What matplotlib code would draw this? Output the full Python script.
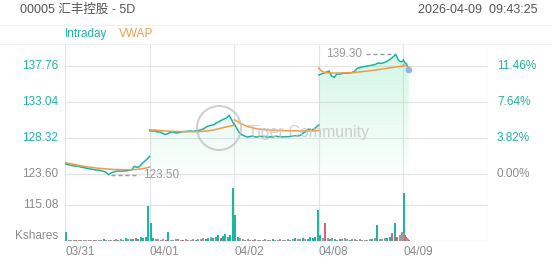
import numpy as np
import matplotlib.pyplot as plt
from matplotlib.patches import Polygon, Circle
import matplotlib.transforms as mtransforms

plt.rcParams['font.family'] = ['Liberation Sans', 'Noto Sans CJK SC', 'DejaVu Sans']

TITLE = "00005 汇丰控股 - 5D"
STAMP = "2026-04-09  09:43:25"
day_labels = ['03/31', '04/01', '04/02', '04/08', '04/09']
prev_close = 123.60
price_ticks = [123.60, 128.32, 133.04, 137.76]
vol_tick = 115.08

# price samples every 10 min of a 330-min session (lunch removed)
minutes_full = list(range(0, 331, 10))
price_d1 = [124.96, 124.85, 124.78, 124.70, 124.62, 124.66, 124.52, 124.45, 124.40, 124.30,
            124.26, 124.20, 124.13, 124.10, 124.05, 123.95, 123.82, 123.50, 123.75, 123.88,
            123.96, 124.00, 123.95, 124.02, 124.00, 124.10, 124.13, 124.60, 124.48, 124.55,
            124.95, 125.25, 125.55, 125.90]
price_d2 = [129.28, 129.22, 129.25, 129.10, 129.12, 128.95, 128.78, 128.88, 129.05, 129.11,
            129.00, 128.98, 129.08, 129.15, 129.17, 129.20, 129.24, 129.18, 129.28, 129.30,
            129.40, 129.50, 129.75, 129.90, 130.00, 130.05, 130.30, 130.45, 130.65, 130.80,
            130.95, 131.30, 130.70, 130.05]
price_d3 = [130.20, 129.60, 129.00, 128.75, 128.60, 128.45, 128.50, 128.58, 128.48, 128.45,
            128.55, 128.50, 128.52, 128.42, 128.48, 128.45, 128.55, 128.50, 128.52, 128.45,
            128.50, 128.48, 128.55, 128.58, 128.62, 128.60, 128.70, 129.00, 129.15, 129.50,
            129.35, 129.45, 129.76, 130.03]
price_d4 = [136.58, 136.70, 136.84, 136.95, 137.10, 136.45, 136.25, 136.71, 136.70, 136.75,
            136.84, 136.80, 136.85, 136.90, 137.10, 137.45, 137.55, 137.63, 137.70, 137.76,
            137.82, 137.89, 137.95, 138.15, 138.10, 138.15, 138.28, 138.45, 138.70, 138.95,
            139.30, 138.55, 138.30, 138.41]
minutes_d5 = [0, 4, 8, 12, 16, 21]
price_d5 = [138.55, 138.30, 138.10, 138.05, 137.70, 137.24]

vwap_d1 = [125.10, 125.02, 124.95, 124.88, 124.82, 124.76, 124.70, 124.64, 124.58, 124.53,
           124.48, 124.44, 124.40, 124.36, 124.33, 124.30, 124.27, 124.24, 124.22, 124.20,
           124.19, 124.18, 124.17, 124.17, 124.17, 124.17, 124.18, 124.19, 124.21, 124.24,
           124.28, 124.34, 124.42, 124.52]
vwap_d2 = [129.40, 129.38, 129.36, 129.33, 129.30, 129.27, 129.24, 129.22, 129.20, 129.19,
           129.18, 129.17, 129.16, 129.15, 129.15, 129.15, 129.15, 129.15, 129.15, 129.16,
           129.18, 129.20, 129.23, 129.27, 129.32, 129.38, 129.45, 129.53, 129.62, 129.70,
           129.78, 129.86, 129.92, 129.98]
vwap_d3 = [130.70, 130.55, 130.35, 130.15, 129.98, 129.85, 129.75, 129.66, 129.59, 129.53,
           129.48, 129.44, 129.41, 129.38, 129.36, 129.34, 129.32, 129.31, 129.30, 129.29,
           129.28, 129.27, 129.26, 129.25, 129.25, 129.24, 129.24, 129.24, 129.24, 129.24,
           129.25, 129.25, 129.26, 129.27]
vwap_d4 = [137.50, 137.10, 136.95, 136.88, 136.85, 136.84, 136.83, 136.83, 136.84, 136.85,
           136.86, 136.87, 136.88, 136.90, 136.92, 136.95, 136.98, 137.02, 137.06, 137.10,
           137.14, 137.18, 137.22, 137.27, 137.32, 137.37, 137.42, 137.47, 137.53, 137.58,
           137.63, 137.68, 137.72, 137.76]
vwap_d5 = [137.90, 137.85, 137.80, 137.75, 137.68, 137.63]

# volume (Kshares) in 34 buckets per session, colour: t=up, r=down, g=flat
vol_d1 = [29, 4, 3, 2, 3, 2, 3, 4, 2, 3, 2, 3, 2, 4, 3, 5, 4, 3, 2, 3,
          5, 4, 6, 4, 8, 5, 6, 7, 9, 6, 12, 10, 14, 112]
col_d1 = "tgggrggggggrgggtgggrgtggtgttrttttt"
vol_d2 = [58, 10, 6, 5, 4, 6, 3, 29, 4, 3, 5, 5, 4, 3, 6, 4, 3, 5, 4, 6,
          5, 8, 6, 10, 12, 8, 14, 18, 10, 16, 22, 14, 20, 169]
col_d2 = "ttggggrtgggggrggggtgggttgtttrttttt"
vol_d3 = [83, 12, 8, 5, 4, 6, 3, 4, 5, 3, 4, 3, 5, 4, 3, 6, 4, 3, 5, 4,
          3, 6, 4, 5, 8, 6, 5, 10, 7, 6, 12, 8, 14, 99]
col_d3 = "ttgggggrgggggggtggggggggtggtgttttt"
vol_d4 = [20, 10, 58, 8, 6, 10, 5, 4, 6, 5, 8, 6, 4, 5, 6, 4, 5, 4, 3, 4,
          5, 6, 8, 51, 6, 5, 8, 10, 14, 25, 58, 12, 20, 30]
col_d4 = "tgrgtgtgtgggtggggggggtgtgggttrtrgg"
minutes_vol_d5 = [0, 3, 6, 9, 12, 16, 20]
vol_d5 = [153, 25, 18, 12, 10, 6, 4]
col_d5 = "tgrrggr"

TEAL = '#20b2a0'
ORANGE = '#f2994a'
GREY_TXT = '#8a8a8a'
GRID = '#e4e4e4'
CMAP = {'t': '#1fb5a3', 'r': '#e0606e', 'g': '#9a9a9a'}

# ---- assemble series (one segment per session)
sessions = [(minutes_full, price_d1, vwap_d1), (minutes_full, price_d2, vwap_d2),
            (minutes_full, price_d3, vwap_d3), (minutes_full, price_d4, vwap_d4),
            (minutes_d5, price_d5, vwap_d5)]
segs = []
for d, (mins, pr, vw) in enumerate(sessions):
    segs.append((np.array([d + m / 330 for m in mins]), np.array(pr), np.array(vw)))
x_p = np.concatenate([s[0] for s in segs])
y_p = np.concatenate([s[1] for s in segs])

x_b, h_b, c_b = [], [], []
for d, (vv, cc) in enumerate([(vol_d1, col_d1), (vol_d2, col_d2), (vol_d3, col_d3), (vol_d4, col_d4)]):
    x_b += [d + (k + 0.5) / len(vv) for k in range(len(vv))]
    h_b += vv
    c_b += [CMAP[c] for c in cc]
x_b += [4 + (m + 0.5) / 330 for m in minutes_vol_d5]
h_b += vol_d5
c_b += [CMAP[c] for c in col_d5]

# ---- figure
W, H = 552, 265
fig = plt.figure(figsize=(W / 100, H / 100), dpi=100)


def fx(px):
    return px / W


def fy(py):
    return 1 - py / H


L, R = 65, 488
TOP, MID, BOT = 44, 185, 241
ax = fig.add_axes([fx(L), fy(MID), fx(R - L), fy(TOP) - fy(MID)])
axv = fig.add_axes([fx(L), fy(BOT), fx(R - L), fy(MID) - fy(BOT)])

ylo, yhi = 122.16, 140.64
for a in (ax, axv):
    a.set_xlim(0, 5)
    a.set_xticks([])
    a.set_yticks([])
    for s in a.spines.values():
        s.set_visible(False)
    for d in range(6):
        a.axvline(d, color=GRID, lw=0.8, zorder=0)
ax.set_ylim(ylo, yhi)
axv.set_ylim(0, 179)

# gradient fill under the price line
poly = Polygon(list(zip(x_p, y_p)) + [(x_p[-1], ylo), (x_p[0], ylo)],
               closed=True, facecolor='none', edgecolor='none')
ax.add_patch(poly)
grad = np.zeros((100, 1, 4))
grad[..., 0], grad[..., 1], grad[..., 2] = 0.30, 0.86, 0.60
grad[:, 0, 3] = np.linspace(0.26, 0.0, 100)
im = ax.imshow(grad, extent=[0, 5, ylo, yhi], aspect='auto', origin='upper', zorder=1)
im.set_clip_path(poly)
ax.set_xlim(0, 5)
ax.set_ylim(ylo, yhi)

for v in price_ticks:
    ax.axhline(v, color=GRID, lw=0.8, zorder=0)
for xs, pr, vw in segs:
    ax.plot(xs, pr, color=TEAL, lw=1.1, zorder=3)
    ax.plot(xs, vw, color=ORANGE, lw=1.1, zorder=4)
ax.scatter([x_p[-1]], [y_p[-1]], s=24, color='#8fb6ee', zorder=5, edgecolors='none')

# high / low markers
pxd = 5 / (R - L)
i_hi, i_lo = int(np.argmax(y_p)), int(np.argmin(y_p))
ax.plot([x_p[i_hi] - 30 * pxd, x_p[i_hi] - 2 * pxd], [y_p[i_hi]] * 2, color='#9a9a9a',
        lw=1, ls=(0, (3, 2)), zorder=4)
ax.text(x_p[i_hi] - 34 * pxd, y_p[i_hi], f"{y_p[i_hi]:.2f}", ha='right', va='center',
        fontsize=8.5, color='#9a9a9a', zorder=4)
ax.plot([x_p[i_lo] + 2 * pxd, x_p[i_lo] + 30 * pxd], [y_p[i_lo]] * 2, color='#9a9a9a',
        lw=1, ls=(0, (3, 2)), zorder=4)
ax.text(x_p[i_lo] + 34 * pxd, y_p[i_lo], f"{y_p[i_lo]:.2f}", ha='left', va='center',
        fontsize=8.5, color='#9a9a9a', zorder=4)

# axis labels
tl = mtransforms.blended_transform_factory(ax.transAxes, ax.transData)
for v in price_ticks:
    c = GREY_TXT if v == prev_close else TEAL
    ax.text(-7 / (R - L), v, f"{v:.2f}", transform=tl, ha='right', va='center', fontsize=8.5, color=c)
    pct = (v / prev_close - 1) * 100
    ax.text(1 + 9 / (R - L), v, f"{pct:.2f}%", transform=tl, ha='left', va='center', fontsize=8.5, color=c)

axv.axhline(vol_tick, color=GRID, lw=0.8, zorder=0)
axv.axhline(0, color=GRID, lw=1.0, zorder=0)
axv.bar(x_b, h_b, width=2.0 * pxd, color=c_b, zorder=2, linewidth=0)
tv = mtransforms.blended_transform_factory(axv.transAxes, axv.transData)
axv.text(-7 / (R - L), vol_tick, f"{vol_tick:.2f}", transform=tv, ha='right', va='center',
         fontsize=8.5, color=GREY_TXT)
axv.text(-7 / (R - L), 17, "Kshares", transform=tv, ha='right', va='center', fontsize=8.5, color=GREY_TXT)
for d, lab in enumerate(day_labels):
    axv.text(d, -0.2, lab, transform=mtransforms.blended_transform_factory(axv.transData, axv.transAxes),
             ha='left', va='center', fontsize=8.5, color=GREY_TXT)

# header
fig.text(fx(20), fy(10), TITLE, ha='left', va='center', fontsize=9, color='#555555')
fig.text(fx(537), fy(10), STAMP, ha='right', va='center', fontsize=9, color='#555555')
fig.text(fx(65), fy(34), "Intraday", ha='left', va='center', fontsize=8.5, color=TEAL)
fig.text(fx(119), fy(34), "VWAP", ha='left', va='center', fontsize=8.5, color=ORANGE)
for yy in (25, 44):
    fig.add_artist(plt.Line2D([0, 1], [fy(yy), fy(yy)], color='#f0f0f0', lw=0.8))

# watermark
fig.add_artist(Circle((2.19, (H - 128) / 100), 0.22, transform=fig.dpi_scale_trans, fill=False,
                      edgecolor='#bdbdbd', lw=1.5, alpha=0.7, zorder=10))
fig.text(fx(248), fy(133), "Tiger Community", ha='left', va='center', fontsize=11.5,
         color='#c4c4c4', alpha=0.8, zorder=10)

fig.savefig('out.png', dpi=100)
